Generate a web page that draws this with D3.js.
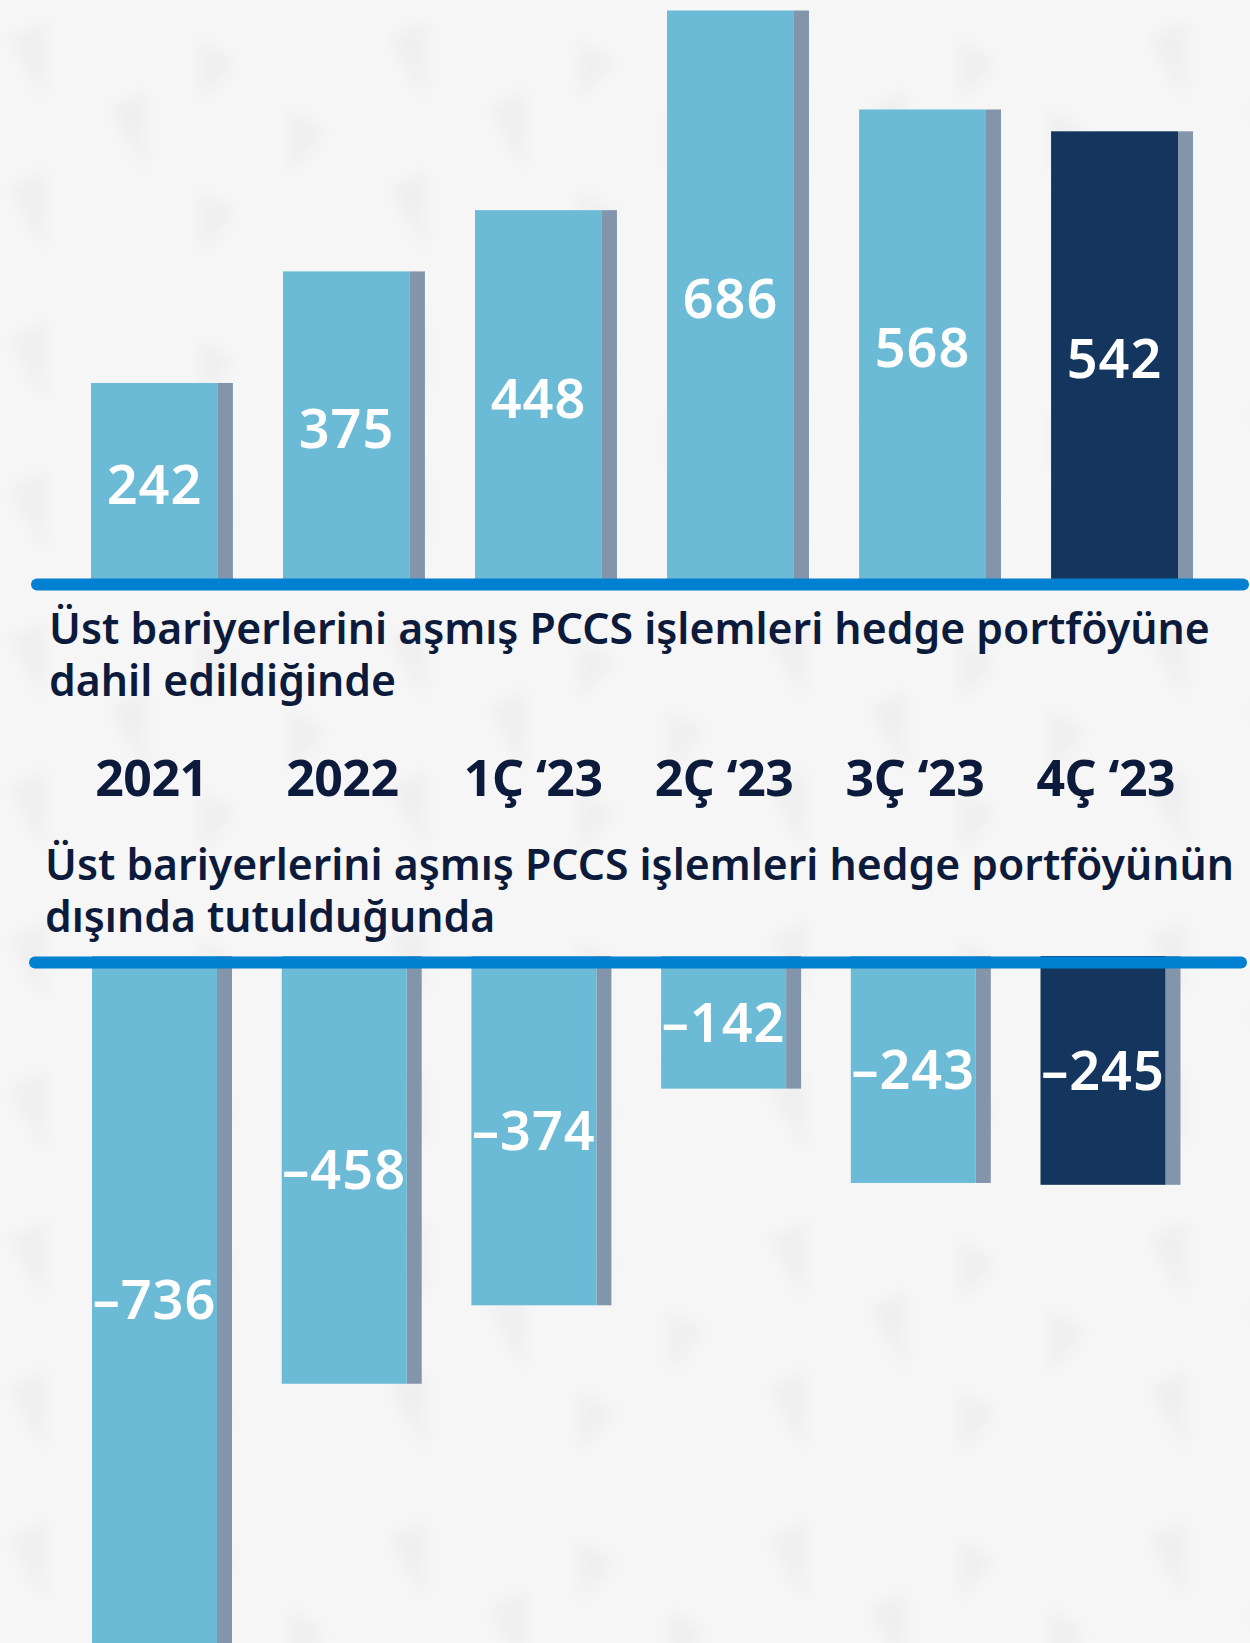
<!DOCTYPE html>
<html>
<head>
<meta charset="utf-8">
<script src="https://cdn.jsdelivr.net/npm/d3@7"></script>
<style>
    html, body { margin: 0; padding: 0; background: #f6f6f6; }
    svg { display: block; }
    .title { font-family: 'Noto Sans', sans-serif; font-weight: 600; fill: #0c1a3c; }
    .cat-label { font-family: 'Noto Sans', sans-serif; font-weight: 700; fill: #0c1a3c; }
    .value-label { font-family: 'Noto Sans', sans-serif; font-weight: 600; fill: #ffffff; }
</style>
</head>
<body>
<div id="chart"></div>
<script>
// Chart data
const categories = ['2021', '2022', '1Ç ‘23', '2Ç ‘23', '3Ç ‘23', '4Ç ‘23'];
const includedValues = [242, 375, 448, 686, 568, 542];
const excludedValues = [-736, -458, -374, -142, -243, -245];
const highlightCategory = '4Ç ‘23';
const includedTitle = ['Üst bariyerlerini aşmış PCCS işlemleri hedge portföyüne', 'dahil edildiğinde'];
const excludedTitle = ['Üst bariyerlerini aşmış PCCS işlemleri hedge portföyünün', 'dışında tutulduğunda'];

const width = 1250;
const height = 1643;

const colors = {
    bar: '#6bbad6',
    highlight: '#14365e',
    shadow: '#8395ab',
    line: '#0080d0',
    pattern: '#efefef'
};

document.addEventListener('DOMContentLoaded', function() {
    const svg = d3.select('#chart')
        .append('svg')
        .attr('width', width)
        .attr('height', height);

    drawBackground(svg);

    // Upper panel: positive values
    const xTop = d3.scaleBand()
        .domain(categories)
        .range([91, 1178])
        .paddingInner(0.339)
        .paddingOuter(0);

    const yTop = d3.scaleLinear()
        .domain([0, 686])
        .range([586, 10.5]);

    // Lower panel: negative values
    const xBottom = d3.scaleBand()
        .domain(categories)
        .range([92, 1165.5])
        .paddingInner(0.341)
        .paddingOuter(0);

    const yBottom = d3.scaleLinear()
        .domain([0, -736])
        .range([956, 1643.4]);

    const topData = categories.map((c, i) => ({category: c, value: includedValues[i]}));
    const bottomData = categories.map((c, i) => ({category: c, value: excludedValues[i]}));

    drawBars(svg, topData, xTop, yTop, 'top');
    drawBars(svg, bottomData, xBottom, yBottom, 'bottom');

    // Baselines
    drawBaseline(svg, 37, 1243, 584.5);
    drawBaseline(svg, 35, 1241, 962.5);

    // Titles
    drawTitle(svg, includedTitle, 49, 644, 1161);
    drawTitle(svg, excludedTitle, 45, 880, 1189);

    // Category labels, centred between the two panels' bars
    const centre = d => ((xTop(d) + xTop.bandwidth() / 2) + (xBottom(d) + xBottom.bandwidth() / 2)) / 2;

    svg.append('g')
        .selectAll('text')
        .data(categories)
        .enter()
        .append('text')
        .attr('class', 'cat-label')
        .attr('x', d => centre(d) - 3)
        .attr('y', 796)
        .attr('text-anchor', 'middle')
        .style('font-size', '50px')
        .style('letter-spacing', '-0.5px')
        .text(d => d);
});

function drawBackground(svg) {
    const defs = svg.append('defs');

    defs.append('filter')
        .attr('id', 'soft')
        .attr('x', '-50%').attr('y', '-50%')
        .attr('width', '200%').attr('height', '200%')
        .append('feGaussianBlur')
        .attr('stdDeviation', 7);

    const pattern = defs.append('pattern')
        .attr('id', 'arrows')
        .attr('patternUnits', 'userSpaceOnUse')
        .attr('width', 380)
        .attr('height', 300);

    pattern.append('rect')
        .attr('width', 380)
        .attr('height', 300)
        .attr('fill', '#f6f6f6');

    // faint play-button shapes
    const tri = [
        'M10,40 L45,20 L45,100 Z',
        'M110,110 L145,90 L145,170 Z',
        'M200,40 L235,62 L200,100 Z',
        'M290,110 L325,132 L290,172 Z',
        'M10,190 L45,170 L45,250 Z',
        'M200,190 L235,212 L200,252 Z'
    ];
    pattern.selectAll('path')
        .data(tri)
        .enter()
        .append('path')
        .attr('d', d => d)
        .attr('fill', colors.pattern)
        .attr('filter', 'url(#soft)');

    svg.append('rect')
        .attr('width', width)
        .attr('height', height)
        .attr('fill', 'url(#arrows)');
}

function drawBars(svg, data, x, y, key) {
    const shadowWidth = 15;
    const g = svg.append('g').attr('class', 'bars-' + key);

    // Side shadow
    g.selectAll('.shadow')
        .data(data)
        .enter()
        .append('rect')
        .attr('class', 'shadow')
        .attr('x', d => x(d.category) + x.bandwidth())
        .attr('y', d => Math.min(y(d.value), y(0)))
        .attr('width', shadowWidth)
        .attr('height', d => Math.abs(y(d.value) - y(0)))
        .attr('fill', colors.shadow);

    // Bars
    g.selectAll('.bar')
        .data(data)
        .enter()
        .append('rect')
        .attr('class', 'bar')
        .attr('x', d => x(d.category))
        .attr('y', d => Math.min(y(d.value), y(0)))
        .attr('width', x.bandwidth())
        .attr('height', d => Math.abs(y(d.value) - y(0)))
        .attr('fill', d => d.category === highlightCategory ? colors.highlight : colors.bar);

    // Value labels, centred in the bar
    g.selectAll('.value-label')
        .data(data)
        .enter()
        .append('text')
        .attr('class', 'value-label')
        .attr('x', d => x(d.category) + x.bandwidth() / 2)
        .attr('y', d => (y(d.value) + y(0)) / 2)
        .attr('dy', '0.36em')
        .attr('text-anchor', 'middle')
        .style('font-size', '54px')
        .style('letter-spacing', '1px')
        .text(d => d.value < 0 ? '–' + Math.abs(d.value) : d.value);
}

function drawBaseline(svg, x1, x2, yPos) {
    svg.append('line')
        .attr('x1', x1)
        .attr('x2', x2)
        .attr('y1', yPos)
        .attr('y2', yPos)
        .attr('stroke', colors.line)
        .attr('stroke-width', 12)
        .attr('stroke-linecap', 'round');
}

function drawTitle(svg, lines, xPos, yPos, targetWidth) {
    const text = svg.append('text')
        .attr('class', 'title')
        .attr('x', xPos)
        .attr('y', yPos)
        .style('font-size', '37px');

    lines.forEach((line, i) => {
        text.append('tspan')
            .attr('x', xPos)
            .attr('dy', i === 0 ? 0 : 52)
            .text(line);
    });

    // fit the first line to the reference width
    const first = text.select('tspan').node();
    const measured = first.getComputedTextLength();
    if (measured > 0) {
        text.style('font-size', (37 * targetWidth / measured).toFixed(2) + 'px');
    }
}
</script>
</body>
</html>
